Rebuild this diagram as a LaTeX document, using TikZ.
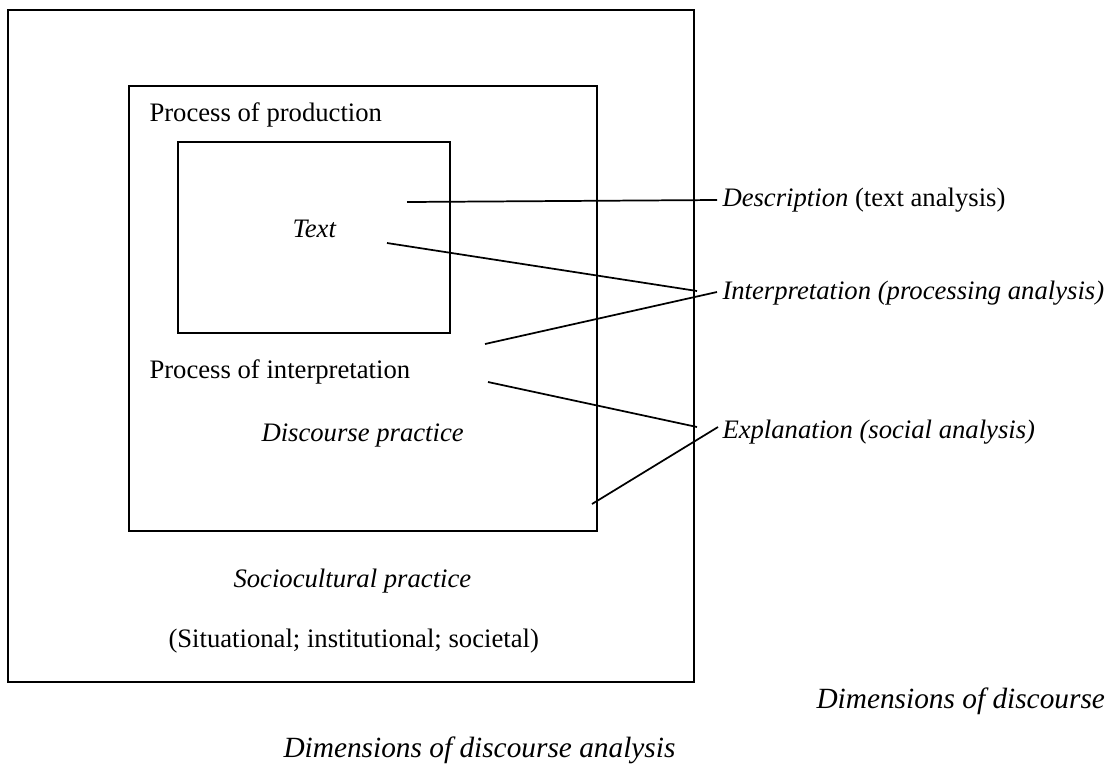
\documentclass[tikz,border=0pt]{standalone}
\usepackage{fontspec}
\setmainfont{Liberation Serif}

\tikzset{every picture/.style={line width=0.75pt}}
\tikzset{
  lbl/.style={anchor=base west,inner sep=0pt,font=\fontsize{20}{24}\selectfont},
  captxt/.style={anchor=base west,inner sep=0pt,font=\fontsize{22}{26}\selectfont\itshape},
  box/.style={line width=0.8pt},
  conn/.style={line width=1.3pt}
}

\begin{document}
\begin{tikzpicture}[x=0.75pt,y=0.75pt,yscale=-1,xscale=1]
\useasboundingbox (0,0) rectangle (1117,765);

%Shape: Rectangle [outer]
\draw [line width=1.1pt] (8,10) rectangle (694,682) ;
%Shape: Rectangle [middle]
\draw [box] (129,86) rectangle (597,531) ;
%Shape: Rectangle [inner]
\draw [box] (178,142) rectangle (450,333) ;

% Text Node
\draw (149,121) node (prod) [lbl] {Process of production};
% Text Node
\draw (292,237) node (txt) [lbl] {\itshape Text};
% Text Node
\draw (149,378) node (interp) [lbl] {Process of interpretation};
% Text Node
\draw (261,441) node (dprac) [lbl] {\itshape Discourse practice};
% Text Node
\draw (233,587) node (sprac) [lbl] {\itshape Sociocultural practice};
% Text Node
\draw (168,647) node (sit) [lbl] {(Situational; institutional; societal)};
% Text Node
\draw (722,206) node (desc) [lbl] {\itshape Description\upshape{} (text analysis)};
% Text Node
\draw (722,299) node (intan) [lbl] {\itshape Interpretation (processing analysis)};
% Text Node
\draw (722,438) node (expl) [lbl] {\itshape Explanation (social analysis)};
% Text Node
\draw (816,708) node (dimd) [captxt] {Dimensions of discourse};
% Text Node
\draw (283,757) node (dimda) [captxt] {Dimensions of discourse analysis};

%Connector ends
\coordinate (d1) at (407,202) ;
\coordinate (d2) at (717,200) ;
\coordinate (t1) at (387,243) ;
\coordinate (t2) at (697,291) ;
\coordinate (i1) at (485,344) ;
\coordinate (i2) at (717,292) ;
\coordinate (e1) at (488,382) ;
\coordinate (e2) at (697,427) ;
\coordinate (s1) at (592,504) ;
\coordinate (s2) at (718,427) ;

%Straight Lines
\draw [conn] (d1) -- (d2) ;
\draw [conn] (t1) -- (t2) ;
\draw [conn] (i1) -- (i2) ;
\draw [conn] (e1) -- (e2) ;
\draw [conn] (s1) -- (s2) ;

\end{tikzpicture}
\end{document}
